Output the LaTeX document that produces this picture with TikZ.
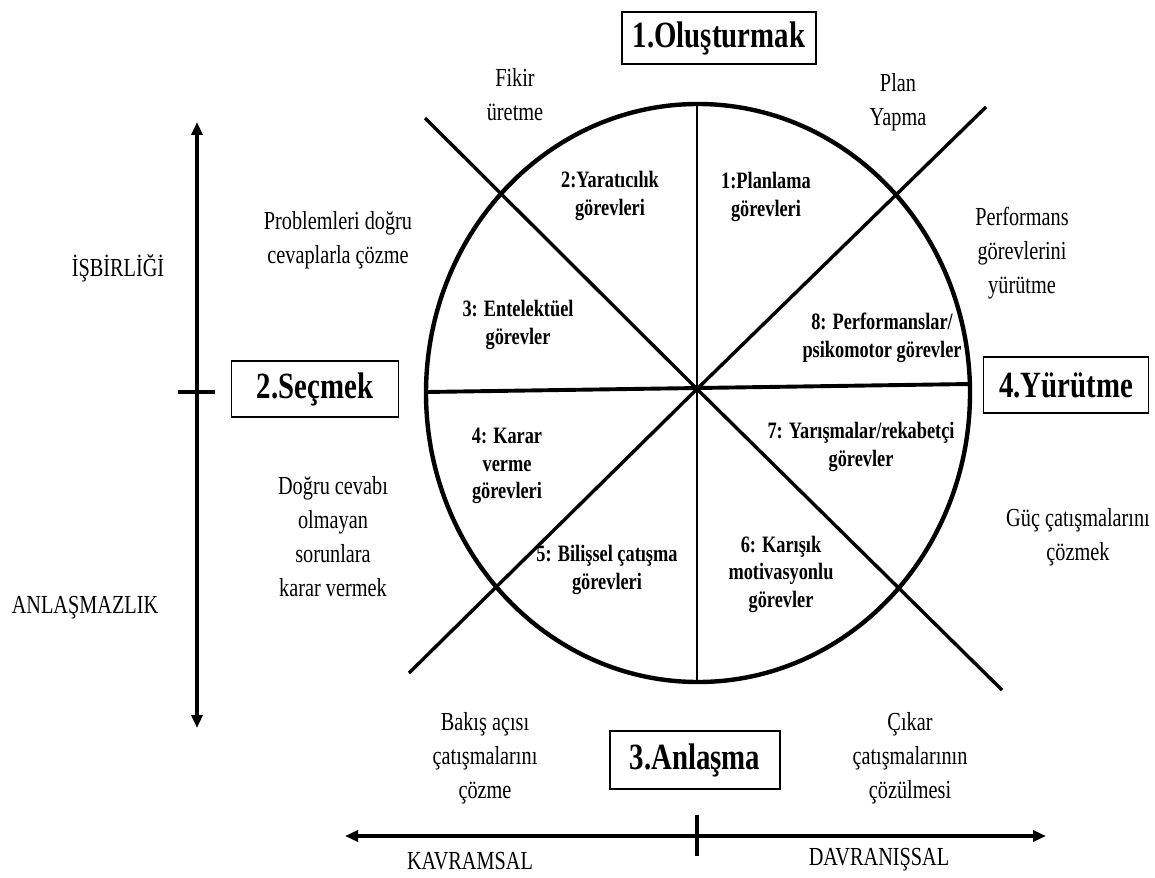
\documentclass[tikz,border=0pt]{standalone}
\usepackage{fontspec}
\setmainfont{Liberation Serif}[FakeStretch=0.78]
\usetikzlibrary{arrows.meta}
\begin{document}
\begin{tikzpicture}[x=1pt,y=-1pt,
  outer/.style={font=\fontsize{26}{34}\selectfont, align=center, inner sep=0pt},
  inlab/.style={font=\bfseries\fontsize{23.5}{27.5}\selectfont, align=center, inner sep=0pt},
  phase/.style={draw, line width=1.5pt, font=\bfseries\fontsize{37}{42}\selectfont, inner sep=0pt},
  axis/.style={line width=3.2pt, {Triangle[length=13pt,width=11pt]}-{Triangle[length=13pt,width=11pt]}},
  spoke/.style={line width=3.4pt},
  tick/.style={line width=3.2pt}
]
\useasboundingbox (0,0) rectangle (1155,877);

% circle and spokes
\coordinate (c) at (697,389);
\draw[line width=4.4pt] (698,393) ellipse [x radius=272pt, y radius=289pt];
\coordinate (vt) at (697,104);
\coordinate (vb) at (697,682);
\coordinate (hl) at (426,392);
\coordinate (hr) at (970,384);
\coordinate (d1a) at (425,118);
\coordinate (d1b) at (1002,690);
\coordinate (d2a) at (409,673);
\coordinate (d2b) at (986,107);
\draw[line width=2.9pt] (vt) -- (vb);
\draw[line width=3.9pt] (hl) -- (hr);
\draw[spoke] (d1a) -- (c) -- (d1b);
\draw[spoke] (d2a) -- (c) -- (d2b);

% phase boxes
\node[phase, minimum width=194pt, minimum height=52pt] (b1) at (719,38) {1.Oluşturmak};
\node[phase, minimum width=167pt, minimum height=56pt] (b2) at (315,389) {2.Seçmek};
\node[phase, minimum width=165pt, minimum height=56pt] (b4) at (1066,385) {4.Yürütme};
\node[phase, minimum width=170pt, minimum height=58pt] (b3) at (695,760) {3.Anlaşma};

% inner labels
\node[inlab] (t2) at (610,196) {2:Yaratıcılık\\görevleri};
\node[inlab] (t1) at (766,197) {1:Planlama\\görevleri};
\node[inlab] (t3) at (518,325) {3: Entelektüel\\görevler};
\node[inlab] (t8) at (882,338) {8: Performanslar/\\psikomotor görevler};
\node[inlab] (t4) at (507,466) {4: Karar\\verme\\görevleri};
\node[inlab] (t7) at (861,447) {7: Yarışmalar/rekabetçi\\görevler};
\node[inlab] (t5) at (607,570) {5: Bilişsel çatışma\\görevleri};
\node[inlab] (t6) at (781,574) {6: Karışık\\motivasyonlu\\görevler};

% outer labels
\node[outer] (o1) at (515,95) {Fikir\\üretme};
\node[outer] (o2) at (898,102) {Plan\\Yapma};
\node[outer] (o3) at (338,240) {Problemleri doğru\\cevaplarla çözme};
\node[outer] (o4) at (1022,253) {Performans\\görevlerini\\yürütme};
\node[outer] (o5) at (333,537) {Doğru cevabı\\olmayan\\sorunlara\\karar vermek};
\node[outer] (o6) at (1078,537) {Güç çatışmalarını\\çözmek};
\node[outer] (o7) at (485,758) {Bakış açısı\\çatışmalarını\\çözme};
\node[outer] (o8) at (910,758) {Çıkar\\çatışmalarının\\çözülmesi};

% axes
\coordinate (vat) at (197,122);
\coordinate (vab) at (197,728);
\draw[axis] (vat) -- (vab);
\coordinate (vk1) at (178,392);
\coordinate (vk2) at (215,392);
\draw[tick] (vk1) -- (vk2);
\coordinate (hal) at (345,836);
\coordinate (har) at (1046,836);
\draw[axis] (hal) -- (har);
\coordinate (hk1) at (697,815);
\coordinate (hk2) at (697,856);
\draw[tick] (hk1) -- (hk2);

\node[outer] (a1) at (118,268) {İŞBİRLİĞİ};
\node[outer] (a2) at (85,608) {ANLAŞMAZLIK};
\node[outer] (a3) at (470,861) {KAVRAMSAL};
\node[outer] (a4) at (879,860) {DAVRANIŞSAL};
\end{tikzpicture}
\end{document}
